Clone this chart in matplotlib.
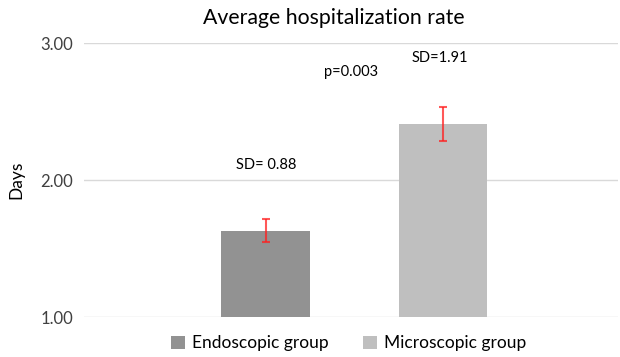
import matplotlib
matplotlib.use("Agg")
import matplotlib.pyplot as plt

groups = ["Endoscopic group", "Microscopic group"]
means = [1.63, 2.41]
errors = [0.085, 0.124]
colors = ["#929292", "#bfbfbf"]
notes = ["SD= 0.88", "SD=1.91"]
p_text = "p=0.003"

plt.rcParams["font.family"] = ["Lato", "DejaVu Sans"]

fig = plt.figure(figsize=(6.2, 3.57), dpi=100)
ax = fig.add_axes([0.1355, 0.112, 0.862, 0.7675])

x = [0, 1]
for xi, m, e, c, g in zip(x, means, errors, colors, groups):
    ax.bar(xi, m - 1.0, bottom=1.0, width=0.5, color=c, label=g, zorder=2)
    ax.errorbar(xi, m, yerr=e, fmt="none", ecolor="#ff2020", alpha=0.75,
                elinewidth=1.5, capsize=2.7, capthick=1.5, zorder=3)

ax.text(0, 2.11, notes[0], ha="center", va="center", fontsize=10.5)
ax.text(0.985, 2.89, notes[1], ha="center", va="center", fontsize=10.5)
ax.text(0.483, 2.79, p_text, ha="center", va="center", fontsize=10.5)

ax.set_xlim(-1.025, 1.99)
ax.set_ylim(1.0, 3.0)
ax.set_yticks([1.0, 2.0, 3.0])
ax.set_yticklabels(["1.00", "2.00", "3.00"], fontsize=12, color="#404040")
ax.set_xticks([])
ax.tick_params(axis="y", length=0, pad=8)
for s in ax.spines.values():
    s.set_visible(False)
ax.grid(axis="y", color="#d9d9d9", linewidth=1.0, zorder=0)
ax.set_ylabel("Days", fontsize=12.5, labelpad=11)

fig.text(0.538, 0.95, "Average hospitalization rate", ha="center", va="center", fontsize=15.3)
ax.legend(loc="upper center", bbox_to_anchor=(0.495, -0.01), ncol=2, frameon=False,
          fontsize=12.5, handlelength=0.8, handleheight=0.8, columnspacing=2.0,
          handletextpad=0.4)

fig.savefig("out.png", dpi=100, facecolor="white")
